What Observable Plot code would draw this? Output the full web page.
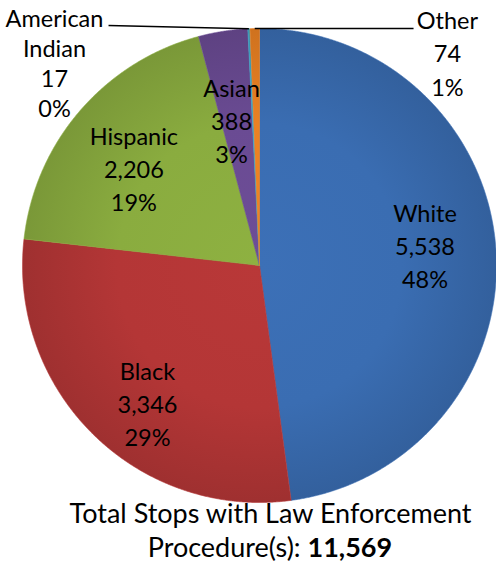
<!DOCTYPE html>
<html><head><meta charset="utf-8">
<script src="https://cdn.jsdelivr.net/npm/d3@7"></script>
<script src="https://cdn.jsdelivr.net/npm/@observablehq/plot@0.6"></script>
<style>
body{margin:0;background:#fff;}
#chart{width:496px;height:566px;overflow:hidden;}
</style>
</head><body><div id="chart"></div>
<script>
// ---- data ----
const categories = ["White", "Black", "Hispanic", "Asian", "American Indian", "Other"];
const counts = [5538, 3346, 2206, 388, 17, 74];
const percentLabels = ["48%", "29%", "19%", "3%", "0%", "1%"];
const colors = ["#3a6db2", "#b43636", "#8aac3f", "#6a4b93", "#3fa7c6", "#ea8123"];
const captionLine1 = "Total Stops with Law Enforcement";
const captionLine2 = "Procedure(s): ";
const totalLabel = "11,569";

// ---- layout (not data) ----
const W = 496, H = 566, CX = 259, CY = 265, R = 237;
const labelNudge = { // in radius units, added to 0.7-radius centroid
  "White": [0, 0.043], "Black": [0.017, -0.078], "Hispanic": [0, -0.044], "Asian": [-0.01, -0.076]
};
const outside = { // label anchor points in radius units
  "American Indian": {lx: -0.865, ly: 0.857, ex: -0.637, ey: 1.013, lh: 1.27},
  "Other": {lx: 0.793, ly: 0.902, ex: 0.650, ey: 1.0, lh: 1.42}
};

// ---- build slices ----
const total = d3.sum(counts);
let acc = 0;
const slices = categories.map((c, i) => {
  const s = {cat: c, idx: i, value: counts[i], pct: percentLabels[i], start: acc / total, frac: counts[i] / total};
  acc += counts[i];
  return s;
});
const pts = [];
for (const s of slices) {
  pts.push({cat: s.cat, idx: s.idx, x: 0, y: 0});
  const n = Math.max(4, Math.ceil(s.frac * 1440));
  for (let k = 0; k <= n; ++k) {
    const a = 2 * Math.PI * (s.start + s.frac * k / n);
    pts.push({cat: s.cat, idx: s.idx, x: Math.sin(a), y: Math.cos(a)});
  }
  pts.push({cat: s.cat, idx: s.idx, x: 0, y: 0});
}
const fmt = d3.format(",");
const inside = slices.filter(s => labelNudge[s.cat]).map(s => {
  const a = 2 * Math.PI * (s.start + s.frac / 2);
  const [nx, ny] = labelNudge[s.cat];
  return {cat: s.cat, x: 0.7 * Math.sin(a) + nx, y: 0.7 * Math.cos(a) + ny,
          text: `${s.cat}\n${fmt(s.value)}\n${s.pct}`};
});
const outs = slices.filter(s => outside[s.cat]).map(s => {
  const a = 2 * Math.PI * (s.start + s.frac / 2);
  const o = outside[s.cat];
  return {cat: s.cat, px: Math.sin(a), py: Math.cos(a), ...o,
          text: `${s.cat.replace(" ", "\n")}\n${fmt(s.value)}\n${s.pct}`};
});

const font = "Lato, 'Open Sans', sans-serif";
const chart = Plot.plot({
  width: W, height: H, margin: 0,
  x: {domain: [-CX / R, (W - CX) / R], axis: null},
  y: {domain: [(CY - H) / R, CY / R], axis: null},
  color: {domain: categories, range: colors},
  style: {fontFamily: font, background: "#fff"},
  marks: [
    ...slices.map(s => Plot.line(pts.filter(p => p.idx === s.idx),
      {x: "x", y: "y", fill: `url(#grad${s.idx})`, stroke: colors[s.idx], strokeWidth: 0.6, curve: "linear-closed"})),
    Plot.link(outs, {x1: "px", y1: "py", x2: "ex", y2: "ey", stroke: "#000", strokeWidth: 1.5}),
    Plot.text(inside, {x: "x", y: "y", text: "text", fontSize: 23.5, lineHeight: 1.4, fill: "#000", lineAnchor: "middle"}),
    ...outs.map(o => Plot.text([o], {x: "lx", y: "ly", text: "text", fontSize: 23.5, lineHeight: o.lh, fill: "#000", lineAnchor: "middle"})),
    Plot.text([captionLine1], {frameAnchor: "top-left", dx: 270, dy: 514, text: d => d, fontSize: 27, fill: "#000", textAnchor: "middle", lineAnchor: "middle"}),
    Plot.text([captionLine2], {frameAnchor: "top-left", dx: 307, dy: 548, text: d => d, fontSize: 27, fill: "#000", textAnchor: "end", lineAnchor: "middle"}),
    Plot.text([totalLabel], {frameAnchor: "top-left", dx: 307, dy: 548, text: d => d, fontSize: 27, fontWeight: "bold", fill: "#000", textAnchor: "start", lineAnchor: "middle"})
  ]
});
// radial gradients centred on the pie, derived from the plot's scales
const sx = chart.scale("x"), sy = chart.scale("y");
const cx = sx.apply(0), cy = sy.apply(0), r = sx.apply(1) - sx.apply(0);
const ns = "http://www.w3.org/2000/svg";
const defs = document.createElementNS(ns, "defs");
colors.forEach((c, i) => {
  const g = document.createElementNS(ns, "radialGradient");
  g.setAttribute("id", `grad${i}`);
  g.setAttribute("gradientUnits", "userSpaceOnUse");
  g.setAttribute("cx", cx); g.setAttribute("cy", cy); g.setAttribute("r", r);
  const base = d3.color(c);
  [[0, base.brighter(0.08)], [0.6, base], [1, base.darker(0.35)]].forEach(([o, col]) => {
    const st = document.createElementNS(ns, "stop");
    st.setAttribute("offset", o);
    st.setAttribute("stop-color", col.formatHex());
    g.appendChild(st);
  });
  defs.appendChild(g);
});
chart.insertBefore(defs, chart.firstChild);
document.getElementById("chart").appendChild(chart);
</script>
</body></html>
